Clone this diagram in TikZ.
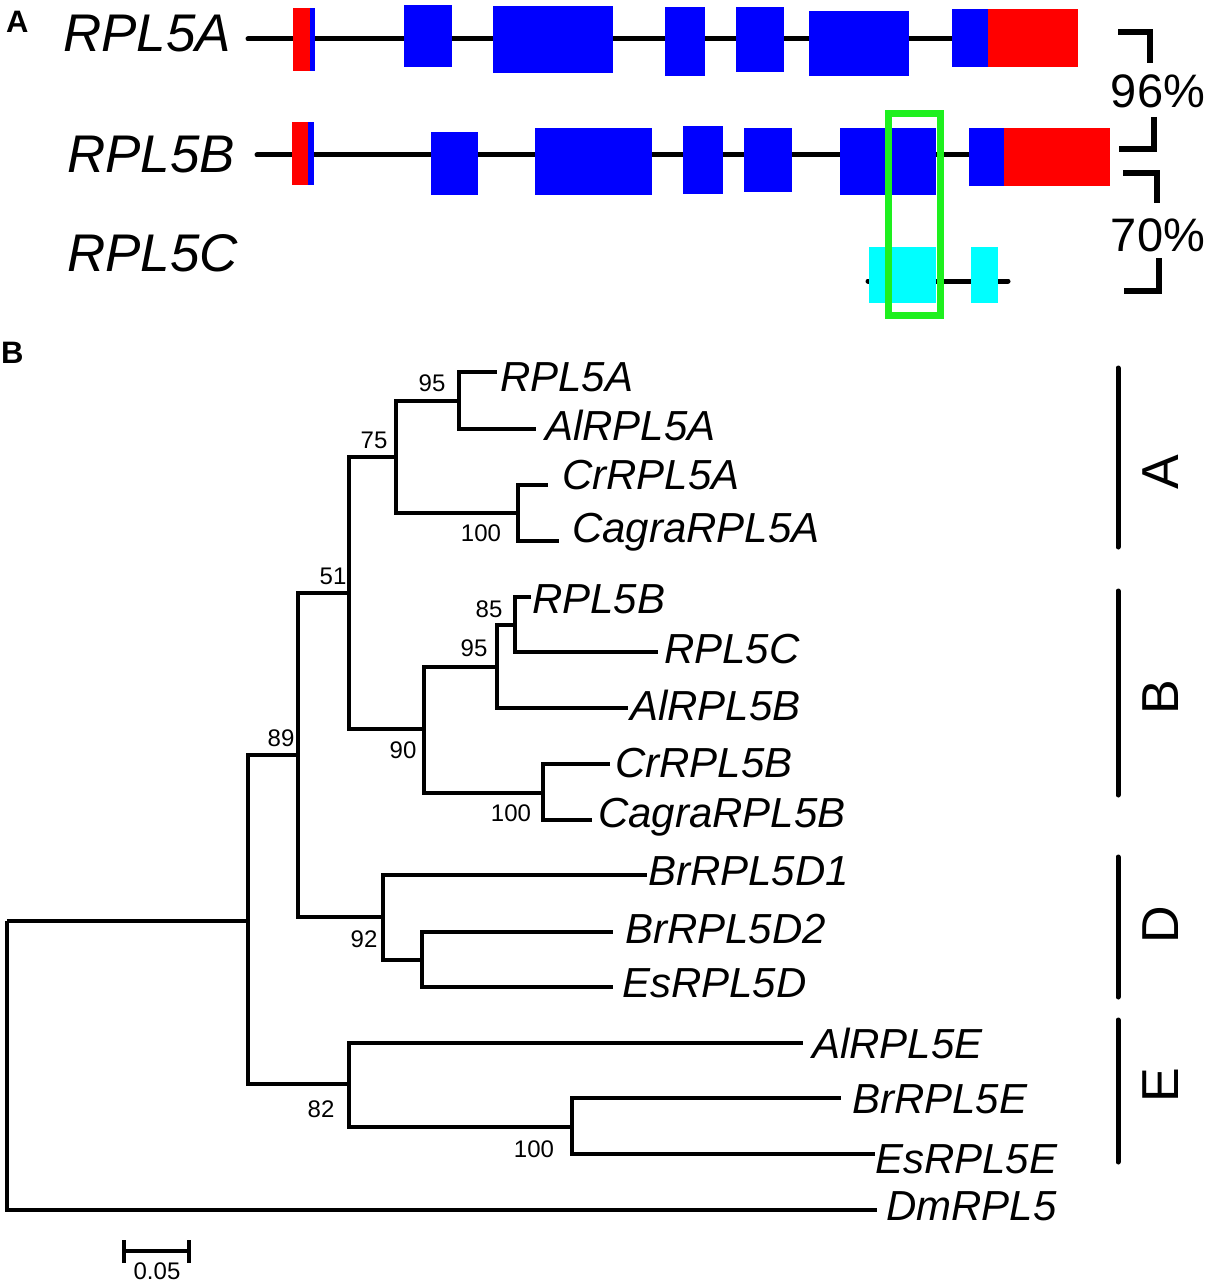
\documentclass[tikz,border=0pt]{standalone}
\usepackage{fontspec}
\setmainfont{Liberation Sans}
\definecolor{exred}{RGB}{255,0,0}
\definecolor{exblue}{RGB}{0,0,255}
\definecolor{excyan}{RGB}{0,255,255}
\definecolor{exgreen}{RGB}{30,240,30}
\begin{document}
\begin{tikzpicture}[x=1pt,y=-1pt,
  tree/.style={line width=3.2pt, line join=miter},
  intron/.style={line width=5pt, line cap=round},
  brk/.style={line width=6pt},
  utr/.style={fill=exred},
  cds/.style={fill=exblue},
  cdsc/.style={fill=excyan},
  leaf/.style={anchor=base west, inner sep=0pt, font=\fontsize{42}{42}\selectfont\itshape},
  gene/.style={anchor=base west, inner sep=0pt, font=\fontsize{53}{53}\selectfont\itshape},
  boot/.style={anchor=center, inner sep=0pt, font=\fontsize{24}{24}\selectfont},
  panel/.style={anchor=base west, inner sep=0pt, font=\fontsize{31}{31}\selectfont\bfseries},
  clade/.style={anchor=center, inner sep=0pt, rotate=90, font=\fontsize{52}{52}\selectfont},
  pct/.style={anchor=base, inner sep=0pt, font=\fontsize{47}{47}\selectfont}]
\useasboundingbox (0,0) rectangle (1210,1284);

% ---------------- Panel A ----------------
\node[panel] (labA) at (6,33) {A};
\node[gene] (gA) at (63,52) {RPL5A};
\node[gene] (gB) at (67,173) {RPL5B};
\node[gene] (gC) at (67,271) {RPL5C};

% introns
\coordinate (a0) at (248,39);  \coordinate (a1) at (960,39);
\coordinate (b0) at (257,155); \coordinate (b1) at (975,155);
\coordinate (c0) at (868,281); \coordinate (c1) at (1008,281);
\draw[intron] (a0) -- (a1);
\draw[intron] (b0) -- (b1);
\draw[intron] (c0) -- (c1);

% RPL5A exons
\fill[utr] (293,8) rectangle (310,71);
\fill[cds] (310,8) rectangle (315,71);
\fill[cds] (404,5) rectangle (452,67);
\fill[cds] (493,6) rectangle (613,73);
\fill[cds] (665,7) rectangle (705,76);
\fill[cds] (736,7) rectangle (784,72);
\fill[cds] (809,11) rectangle (909,76);
\fill[cds] (952,9) rectangle (988,67);
\fill[utr] (988,9) rectangle (1078,67);

% RPL5B exons
\fill[utr] (292,122) rectangle (308,185);
\fill[cds] (308,122) rectangle (314,185);
\fill[cds] (431,132) rectangle (478,195);
\fill[cds] (535,128) rectangle (652,195);
\fill[cds] (683,126) rectangle (723,194);
\fill[cds] (744,128) rectangle (792,192);
\fill[cds] (840,128) rectangle (936,195);
\fill[cds] (969,128) rectangle (1004,186);
\fill[utr] (1004,128) rectangle (1110,186);

% RPL5C exons
\fill[cdsc] (869,247) rectangle (936,303);
\fill[cdsc] (971,247) rectangle (998,303);

% green frame
\draw[line width=7pt, exgreen] (888.5,113.5) rectangle (940.5,315.5);

% similarity brackets
\draw[brk] (1118,32) -- (1150,32) -- (1150,63);
\draw[brk] (1154,117) -- (1154,149) -- (1119,149);
\node[pct] (p96) at (1158,108) {96\%};
\draw[brk] (1123,173) -- (1157,173) -- (1157,203);
\draw[brk] (1159,258) -- (1159,291) -- (1124,291);
\node[pct] (p70) at (1158,251) {70\%};

% ---------------- Panel B ----------------
\node[panel] (labB) at (1,363) {B};

% internal nodes
\coordinate (root) at (7,921);
\coordinate (n1) at (248,921);
\coordinate (nABD) at (298,755);
\coordinate (nE) at (349,1084);
\coordinate (nAB) at (349,593);
\coordinate (nD) at (383,917);
\coordinate (nA) at (396,457);
\coordinate (nB) at (424,729);
\coordinate (nA1) at (459,401);
\coordinate (nA2) at (518,513);
\coordinate (nB1) at (497,667);
\coordinate (nB2) at (543,793);
\coordinate (nB11) at (515,625);
\coordinate (nD2) at (422,960);
\coordinate (nE2) at (572,1127);
% leaf ends
\coordinate (eRPL5A) at (497,372);
\coordinate (eAlRPL5A) at (536,429);
\coordinate (eCrRPL5A) at (548,485);
\coordinate (eCagraRPL5A) at (559,541);
\coordinate (eRPL5B) at (531,597);
\coordinate (eRPL5C) at (658,652);
\coordinate (eAlRPL5B) at (628,708);
\coordinate (eCrRPL5B) at (610,764);
\coordinate (eCagraRPL5B) at (592,820);
\coordinate (eBrRPL5D1) at (647,875);
\coordinate (eBrRPL5D2) at (613,932);
\coordinate (eEsRPL5D) at (613,987);
\coordinate (eAlRPL5E) at (803,1043);
\coordinate (eBrRPL5E) at (841,1098);
\coordinate (eEsRPL5E) at (875,1154);
\coordinate (eDmRPL5) at (877,1210);

\foreach \p/\c in {root/n1, root/eDmRPL5, n1/nABD, n1/nE, nABD/nAB, nABD/nD,
  nAB/nA, nAB/nB, nA/nA1, nA/nA2, nA1/eRPL5A, nA1/eAlRPL5A, nA2/eCrRPL5A,
  nA2/eCagraRPL5A, nB/nB1, nB/nB2, nB1/nB11, nB1/eAlRPL5B, nB11/eRPL5B,
  nB11/eRPL5C, nB2/eCrRPL5B, nB2/eCagraRPL5B, nD/eBrRPL5D1, nD/nD2,
  nD2/eBrRPL5D2, nD2/eEsRPL5D, nE/eAlRPL5E, nE/nE2, nE2/eBrRPL5E, nE2/eEsRPL5E}
  \draw[tree] (\p) |- (\c);

% leaf labels
\node[leaf] (tRPL5A) at (500,391) {RPL5A};
\node[leaf] (tAlRPL5A) at (545,440) {AlRPL5A};
\node[leaf] (tCrRPL5A) at (562,489) {CrRPL5A};
\node[leaf] (tCagraRPL5A) at (572,542) {CagraRPL5A};
\node[leaf] (tRPL5B) at (532,613) {RPL5B};
\node[leaf] (tRPL5C) at (664,663) {RPL5C};
\node[leaf] (tAlRPL5B) at (630,720) {AlRPL5B};
\node[leaf] (tCrRPL5B) at (615,777) {CrRPL5B};
\node[leaf] (tCagraRPL5B) at (598,827) {CagraRPL5B};
\node[leaf] (tBrRPL5D1) at (648,885) {BrRPL5D1};
\node[leaf] (tBrRPL5D2) at (625,943) {BrRPL5D2};
\node[leaf] (tEsRPL5D) at (622,997) {EsRPL5D};
\node[leaf] (tAlRPL5E) at (812,1058) {AlRPL5E};
\node[leaf] (tBrRPL5E) at (852,1113) {BrRPL5E};
\node[leaf] (tEsRPL5E) at (875,1173) {EsRPL5E};
\node[leaf] (tDmRPL5) at (886,1220) {DmRPL5};

% bootstrap values
\node[boot] (b95a) at (432,383) {95};
\node[boot] (b75) at (374,440) {75};
\node[boot] (b100a) at (481,533) {100};
\node[boot] (b51) at (333,576) {51};
\node[boot] (b89) at (281,738) {89};
\node[boot] (b85) at (489,609) {85};
\node[boot] (b95b) at (474,648) {95};
\node[boot] (b90) at (403,750) {90};
\node[boot] (b100b) at (511,813) {100};
\node[boot] (b92) at (364,939) {92};
\node[boot] (b82) at (321,1109) {82};
\node[boot] (b100c) at (534,1149) {100};

% clade bars
\coordinate (cA0) at (1118,368);  \coordinate (cA1) at (1118,547);
\coordinate (cB0) at (1118,591);  \coordinate (cB1) at (1118,795);
\coordinate (cD0) at (1118,857);  \coordinate (cD1) at (1118,997);
\coordinate (cE0) at (1118,1020); \coordinate (cE1) at (1118,1162);
\draw[intron] (cA0) -- (cA1);
\draw[intron] (cB0) -- (cB1);
\draw[intron] (cD0) -- (cD1);
\draw[intron] (cE0) -- (cE1);
\node[clade] (kA) at (1161,472) {A};
\node[clade] (kB) at (1161,697) {B};
\node[clade] (kD) at (1161,925) {D};
\node[clade] (kE) at (1161,1085) {E};

% scale bar
\coordinate (s0) at (124,1251); \coordinate (s1) at (189,1251);
\draw[line width=3.5pt] (s0) -- (s1);
\draw[line width=3.5pt] (124,1240) -- (124,1263);
\draw[line width=3.5pt] (189,1240) -- (189,1263);
\node[boot] (sc) at (157,1271) {0.05};
\end{tikzpicture}
\end{document}
